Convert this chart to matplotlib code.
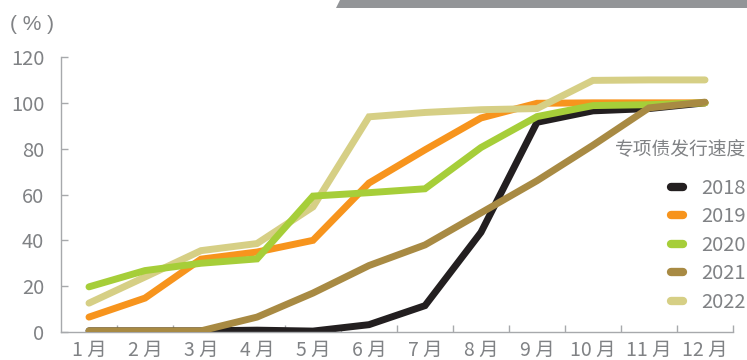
import matplotlib
matplotlib.use('Agg')
import matplotlib.pyplot as plt
import matplotlib.patches as patches
import numpy as np

plt.rcParams['font.family'] = ['Noto Sans CJK SC', 'DejaVu Sans']

# months on the x axis
months = ['1 月', '2 月', '3 月', '4 月', '5 月', '6 月',
          '7 月', '8 月', '9 月', '10 月', '11 月', '12 月']

# cumulative issuance progress per year (%)
y2018 = [0.5, 0.5, 0.5, 0.8, 0.4, 3.2, 11.5, 43.5, 91.5, 96.5, 97.5, 100]
y2019 = [6.5, 14.8, 31.8, 34.9, 40.0, 65.0, 79.5, 93.4, 99.8, 100, 100, 100]
y2020 = [19.7, 26.8, 30.0, 31.9, 59.3, 60.8, 62.5, 80.5, 94.0, 98.8, 99.2, 100]
y2021 = [0.5, 0.5, 0.5, 6.5, 17.0, 29.0, 38.0, 52.0, 66.0, 81.5, 97.8, 100.3]
y2022 = [12.6, 24.0, 35.5, 38.6, 54.6, 93.9, 95.8, 97.0, 97.5, 109.8, 110, 110]

series = [('2018', y2018, '#231f20'),
          ('2019', y2019, '#f7941d'),
          ('2020', y2020, '#a6ce39'),
          ('2021', y2021, '#a88a43'),
          ('2022', y2022, '#d6cf85')]
zorders = {'2018': 2, '2019': 3, '2022': 4, '2020': 5, '2021': 6}

text_gray = '#808285'
axis_gray = '#a7a9ac'

fig = plt.figure(figsize=(7.47, 3.6), dpi=100)
ax = fig.add_axes([61 / 747, 1 - 332 / 360, 672 / 747, 275 / 360])

x = np.arange(len(months))
for name, vals, color in series:
    ax.plot(x, vals, color=color, lw=5, label=name, zorder=zorders[name],
            solid_capstyle='round', solid_joinstyle='miter')

ax.set_xlim(-0.5, 11.5)
ax.set_ylim(0, 120)
ax.set_yticks(range(0, 121, 20))

# month labels at the centres, tick marks between the months
ax.set_xticks(x)
ax.set_xticklabels(months)
ax.set_xticks(np.arange(0.5, 12, 1), minor=True)
ax.tick_params(axis='x', which='major', length=0, pad=6, labelsize=14, labelcolor=text_gray)
ax.tick_params(axis='x', which='minor', length=5, width=1, direction='in', color=axis_gray)
ax.tick_params(axis='y', length=5, width=1, direction='in', color=axis_gray,
               pad=12, labelsize=14.5, labelcolor=text_gray)

for side in ['top', 'right']:
    ax.spines[side].set_visible(False)
for side in ['left', 'bottom']:
    ax.spines[side].set_color(axis_gray)
    ax.spines[side].set_linewidth(1)

# unit label
fig.text(10 / 747, 1 - 25 / 360, '( % )', fontsize=15, color=text_gray,
         family='Liberation Sans', ha='left', va='center')

# gray band at the top right
band = patches.Polygon([[336 / 747, 1 - 8 / 360], [340 / 747, 1.0], [1.0, 1.0], [1.0, 1 - 8 / 360]],
                       closed=True, transform=fig.transFigure, facecolor='#939598',
                       edgecolor='none')
fig.patches.append(band)

# legend title placed on its own, entries below it
fig.text(746 / 747, 1 - 150 / 360, '专项债发行速度', fontsize=13.5, color=text_gray,
         ha='right', va='center')
leg = ax.legend(loc='upper right', bbox_to_anchor=(746 / 747, 1 - 178 / 360),
                bbox_transform=fig.transFigure, frameon=False, fontsize=14.5,
                borderpad=0, labelspacing=0.37,
                handlelength=0.6, handletextpad=0.9, borderaxespad=0)
for t in leg.get_texts():
    t.set_color(text_gray)
for h in leg.legend_handles:
    h.set_linewidth(6)

fig.savefig('out.png', dpi=100)
